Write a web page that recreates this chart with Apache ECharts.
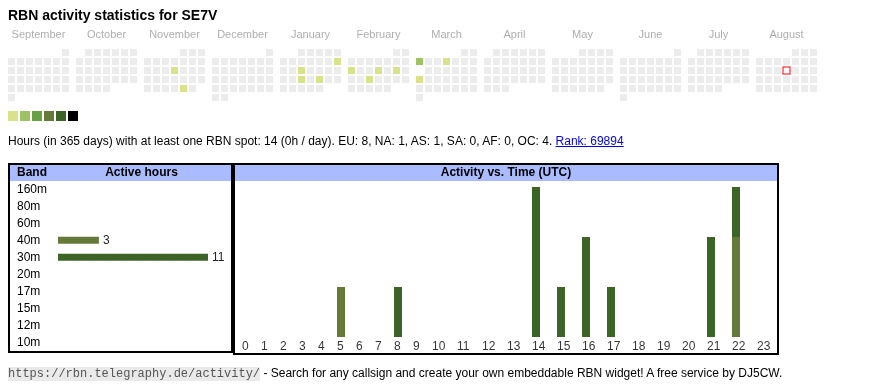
<!DOCTYPE html>
<html><head><meta charset="utf-8">
<script src="https://cdn.jsdelivr.net/npm/echarts@6/dist/echarts.min.js"></script>
<style>
html,body{margin:0;padding:0;background:#fff;}
#chart{position:absolute;left:0;top:0;width:870px;height:390px;}
.txt{position:absolute;font-family:'Liberation Sans',Arial,sans-serif;font-size:12px;color:#000;white-space:nowrap;}
.txt a{color:#0000ee;text-decoration:underline;}
.mono{font-family:'Liberation Mono','Courier New',monospace;font-size:12px;color:#555;background:#eaeaea;}
</style></head><body>
<div id="chart"></div>
<div class="txt" style="left:8px;top:134px;line-height:15px">Hours (in 365 days) with at least one RBN spot: 14 (0h / day). EU: 8, NA: 1, AS: 1, SA: 0, AF: 0, OC: 4. <a href="#">Rank: 69894</a></div>
<div class="txt" style="left:8px;top:366px;line-height:15px"><span class="mono">https://rbn.telegraphy.de/activity/</span> - Search for any callsign and create your own embeddable RBN widget! A free service by DJ5CW.</div>
<script>
// ---------- data ----------
const titleText = 'RBN activity statistics for SE7V';
const monthNames = ['September','October','November','December','January','February','March','April','May','June','July','August'];
const monthYears = [2024,2024,2024,2024,2025,2025,2025,2025,2025,2025,2025,2025];
const monthNums  = [8,9,10,11,0,1,2,3,4,5,6,7];
const activeDates = ['2024-11-14','2024-11-29','2025-01-12','2025-01-15','2025-01-22','2025-01-24','2025-02-10','2025-02-13','2025-02-15','2025-02-19','2025-03-03','2025-03-06','2025-03-17'];
const activeHours = [1,1,1,1,1,1,1,1,1,1,2,1,1];
const missingDates = ['2025-03-10'];
const todayDate = '2025-08-14';
const levelColors = ['#d9e18b','#9cc264','#68a044','#657a38','#3c6427','#000000'];
const emptyColor = '#ececec';

const bands = ['160m','80m','60m','40m','30m','20m','17m','15m','12m','10m'];
const bandHours = [0,0,0,3,11,0,0,0,0,0];
const bandColors = ['#657a38','#657a38','#657a38','#657a38','#3c6427','#3c6427','#3c6427','#3c6427','#3c6427','#3c6427'];

const hourLabels = ['0','1','2','3','4','5','6','7','8','9','10','11','12','13','14','15','16','17','18','19','20','21','22','23'];
const hourlyBands = ['40m','30m'];
const hourly40m = [0,0,0,0,0,1,0,0,0,0,0,0,0,0,0,0,0,0,0,0,0,0,2,0];
const hourly30m = [0,0,0,0,0,0,0,0,1,0,0,0,0,0,3,1,2,1,0,0,0,2,1,0];
const hourlyColors = ['#657a38','#3c6427'];

// ---------- layout helpers ----------
const CELL_PITCH = 9, MONTH_PITCH = 68;
function pad(n){return (n<10?'0':'')+n;}
const activeMap = {};
activeDates.forEach((d,i)=>{activeMap[d]=activeHours[i];});
const cells = [], todayCell = [], monthLabelData = [];
monthNames.forEach((name, m) => {
  const y = monthYears[m], mo = monthNums[m];
  const first = (new Date(Date.UTC(y, mo, 1)).getUTCDay() + 6) % 7;
  const days = new Date(Date.UTC(y, mo + 1, 0)).getUTCDate();
  monthLabelData.push({value:[m*MONTH_PITCH + 3*CELL_PITCH, -2], name});
  for (let d = 1; d <= days; d++) {
    const key = y + '-' + pad(mo+1) + '-' + pad(d);
    if (missingDates.includes(key)) continue;
    const dow = (first + d - 1) % 7;
    const row = Math.floor((first + d - 1) / 7);
    const pos = [m*MONTH_PITCH + dow*CELL_PITCH, row];
    if (key === todayDate) { todayCell.push(pos); continue; }
    const h = activeMap[key];
    cells.push({value: pos, itemStyle: {color: h ? levelColors[Math.min(h,6)-1] : emptyColor}});
  }
});
const legendData = levelColors.map((c,i)=>({value:[i+0.5,0.5], itemStyle:{color:c}}));

// table column offsets (wider columns for two-digit hours)
const colStart = [];
let acc = 0;
hourLabels.forEach(l => { colStart.push(acc); acc += (l.length === 1 ? 19 : 25); });
// stacked segments [x, from, to, bandIdx]
const segs = [];
hourLabels.forEach((l,i)=>{
  let base = 0;
  [hourly40m, hourly30m].forEach((arr,b)=>{
    if (arr[i] > 0) segs.push([colStart[i]+4, base, base+arr[i], b]);
    base += arr[i];
  });
});
const hourLabelData = hourLabels.map((l,i)=>({value:[colStart[i],0], name:l}));

const FONT = "'Liberation Sans', Arial, sans-serif";
function txt(x,y,text,opts){
  return Object.assign({type:'text', x, y, z:10, style:Object.assign({text, fill:'#000', font:'12px '+FONT, align:'left', verticalAlign:'middle', textAlign:'left', textVerticalAlign:'middle'}, opts||{})});
}

const chart = echarts.init(document.getElementById('chart'), null, {renderer:'canvas'});
chart.setOption({
  animation:false,
  graphic:[
    {type:'rect', z:1, shape:{x:10,y:165,width:221,height:16}, style:{fill:'#aabbff'}},
    {type:'rect', z:1, shape:{x:235,y:165,width:542,height:16}, style:{fill:'#aabbff'}},
    {type:'rect', z:5, shape:{x:9,y:164,width:223,height:188}, style:{fill:null, stroke:'#000', lineWidth:2}},
    {type:'rect', z:5, shape:{x:234,y:164,width:544,height:190}, style:{fill:null, stroke:'#000', lineWidth:2}},
    txt(8,16,titleText,{font:'bold 14px '+FONT}),
    txt(17,173,'Band',{font:'bold 12px '+FONT}),
    txt(141.5,173,'Active hours',{font:'bold 12px '+FONT, align:'center', textAlign:'center'}),
    txt(506,173,'Activity vs. Time (UTC)',{font:'bold 12px '+FONT, align:'center', textAlign:'center'})
  ],
  grid:[
    {left:8, top:21, width:810, height:81},
    {left:7, top:111, width:72, height:10},
    {left:58, top:180.8, width:150, height:170},
    {left:242, top:187, width:535, height:150}
  ],
  xAxis:[
    {gridIndex:0, type:'value', min:-3.5, max:806.5, show:false},
    {gridIndex:1, type:'value', min:0, max:6, show:false},
    {gridIndex:2, type:'value', min:0, max:11, show:false},
    {gridIndex:3, type:'value', min:0, max:535, show:false}
  ],
  yAxis:[
    {gridIndex:0, type:'value', min:-3.5, max:5.5, inverse:true, show:false},
    {gridIndex:1, type:'value', min:0, max:1, show:false},
    {gridIndex:2, type:'category', data:bands, inverse:true, axisLine:{show:false}, axisTick:{show:false},
      axisLabel:{align:'left', margin:41, fontSize:12, color:'#000', fontFamily:FONT}},
    {gridIndex:3, type:'value', min:0, max:3, show:false}
  ],
  series:[
    {type:'custom', xAxisIndex:0, yAxisIndex:0, silent:true, clip:false, data:cells,
      renderItem:(params, api)=>{
        const c = api.coord([api.value(0), api.value(1)]);
        return {type:'rect', shape:{x:c[0]-3.5, y:c[1]-3.5, width:7, height:7}, style:{fill:cells[params.dataIndex].itemStyle.color}};
      }},
    {type:'custom', xAxisIndex:0, yAxisIndex:0, silent:true, clip:false, data:todayCell, z:5,
      renderItem:(params, api)=>{
        const c = api.coord([api.value(0), api.value(1)]);
        return {type:'group', children:[
          {type:'rect', shape:{x:c[0]-4, y:c[1]-4, width:8, height:8}, style:{fill:'#ff0000'}},
          {type:'rect', shape:{x:c[0]-3, y:c[1]-3, width:6, height:6}, style:{fill:'#ffffff'}}
        ]};
      }},
    {type:'scatter', xAxisIndex:0, yAxisIndex:0, symbolSize:0, data:monthLabelData, clip:false, silent:true,
      label:{show:true, position:'inside', formatter:p=>p.name, color:'#9a9a9a', fontSize:11, fontFamily:FONT}},
    {type:'scatter', xAxisIndex:1, yAxisIndex:1, symbol:'rect', symbolSize:10, data:legendData, clip:false, silent:true, itemStyle:{opacity:1}},
    {type:'bar', xAxisIndex:2, yAxisIndex:2, barWidth:7, silent:true,
      data:bandHours.map((v,i)=>({value:v, itemStyle:{color:bandColors[i]}})),
      label:{show:true, position:'right', distance:4, fontSize:12, color:'#222', fontFamily:FONT, formatter:p=>p.value>0?p.value:''}},
    {type:'custom', xAxisIndex:3, yAxisIndex:3, silent:true, data:segs, encode:{x:0, y:[1,2]},
      renderItem:(params, api)=>{
        const p0 = api.coord([api.value(0), api.value(1)]);
        const p1 = api.coord([api.value(0), api.value(2)]);
        return {type:'rect', shape:{x:p0[0]-4, y:p1[1], width:8, height:p0[1]-p1[1]},
          style:{fill:hourlyColors[api.value(3)]}};
      }},
    {type:'scatter', xAxisIndex:3, yAxisIndex:3, symbolSize:0, data:hourLabelData, clip:false, silent:true,
      label:{show:true, position:'bottom', distance:4, align:'left', formatter:p=>p.name, color:'#000', fontSize:12, fontFamily:FONT}}
  ]
});
</script>
</body></html>
